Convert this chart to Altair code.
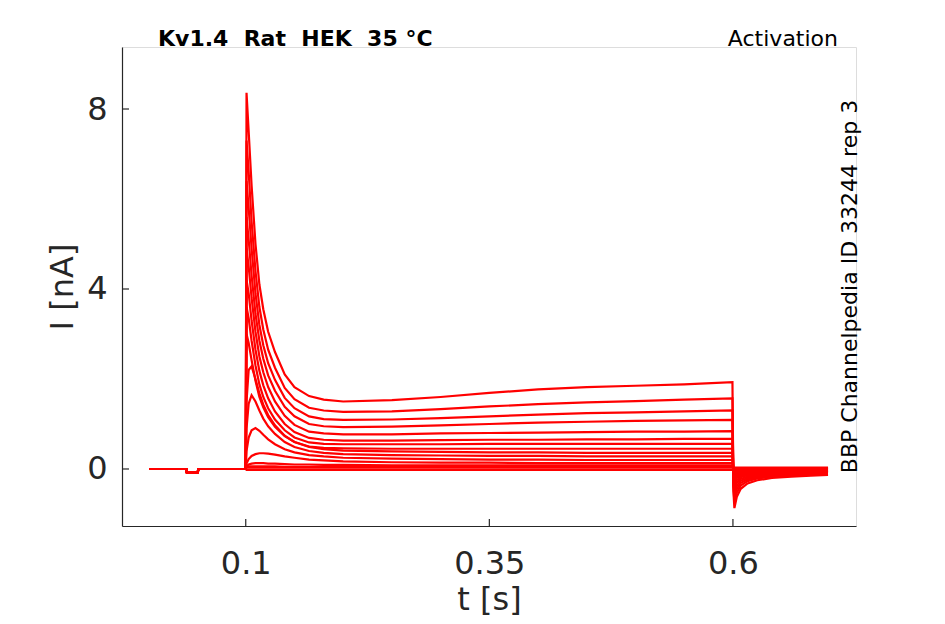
import altair as alt
import pandas as pd

# time grids (s)
t_pre = [0.001, 0.039, 0.0395, 0.0508, 0.0513, 0.0995]
t_step = [0.1, 0.1008, 0.103, 0.106, 0.11, 0.114, 0.118, 0.123, 0.13, 0.14, 0.15,
          0.165, 0.18, 0.2, 0.25, 0.3, 0.35, 0.4, 0.45, 0.5, 0.55, 0.5995]
t_tail = [0.6005, 0.6015, 0.604, 0.608, 0.615, 0.625, 0.64, 0.66, 0.68, 0.6976]

# holding current before the step (nA), shared by all sweeps
i_pre = [0.0, 0.0, -0.07, -0.07, 0.0, 0.0]

# current during the activation step (nA)
step_01 = [0.0, 8.36, 7.5, 6.3, 5.0, 4.1, 3.55, 3.05, 2.6, 2.1, 1.82, 1.62, 1.54, 1.50, 1.53, 1.60, 1.69, 1.77, 1.82, 1.85, 1.88, 1.93]
step_02 = [0.0, 7.3, 6.6, 5.5, 4.4, 3.6, 3.1, 2.65, 2.25, 1.8, 1.55, 1.36, 1.30, 1.27, 1.28, 1.33, 1.39, 1.44, 1.48, 1.51, 1.54, 1.57]
step_03 = [0.0, 6.4, 5.8, 4.9, 3.9, 3.2, 2.75, 2.35, 1.98, 1.58, 1.35, 1.17, 1.11, 1.09, 1.10, 1.13, 1.17, 1.21, 1.24, 1.26, 1.28, 1.30]
step_04 = [0.0, 5.6, 5.1, 4.3, 3.45, 2.85, 2.45, 2.08, 1.74, 1.38, 1.17, 1.00, 0.95, 0.93, 0.94, 0.97, 1.00, 1.03, 1.05, 1.07, 1.08, 1.09]
step_05 = [0.0, 4.9, 4.5, 3.8, 3.05, 2.5, 2.15, 1.82, 1.5, 1.18, 0.98, 0.83, 0.79, 0.77, 0.77, 0.79, 0.80, 0.81, 0.82, 0.83, 0.83, 0.84]
step_06 = [0.0, 4.2, 3.9, 3.3, 2.65, 2.18, 1.86, 1.57, 1.28, 1.0, 0.82, 0.69, 0.65, 0.63, 0.63, 0.64, 0.65, 0.65, 0.66, 0.66, 0.67, 0.67]
step_07 = [0.0, 3.6, 3.35, 2.85, 2.3, 1.88, 1.6, 1.35, 1.1, 0.86, 0.70, 0.59, 0.56, 0.55, 0.55, 0.55, 0.56, 0.56, 0.56, 0.56, 0.56, 0.56]
step_08 = [0.0, 3.0, 2.8, 2.42, 1.96, 1.6, 1.37, 1.15, 0.94, 0.73, 0.60, 0.50, 0.47, 0.46, 0.45, 0.45, 0.45, 0.45, 0.45, 0.45, 0.45, 0.45]
step_09 = [0.0, 1.5, 2.2, 2.28, 2.0, 1.68, 1.43, 1.2, 0.97, 0.74, 0.60, 0.49, 0.44, 0.41, 0.39, 0.38, 0.37, 0.37, 0.36, 0.36, 0.36, 0.36]
step_10 = [0.0, 0.9, 1.45, 1.64, 1.5, 1.3, 1.12, 0.95, 0.78, 0.60, 0.49, 0.40, 0.36, 0.33, 0.31, 0.30, 0.29, 0.29, 0.28, 0.28, 0.28, 0.28]
step_11 = [0.0, 0.4, 0.7, 0.86, 0.91, 0.85, 0.76, 0.66, 0.55, 0.44, 0.37, 0.31, 0.28, 0.25, 0.23, 0.22, 0.21, 0.21, 0.20, 0.20, 0.20, 0.20]
step_12 = [0.0, 0.12, 0.22, 0.29, 0.33, 0.35, 0.35, 0.34, 0.32, 0.28, 0.25, 0.21, 0.19, 0.17, 0.15, 0.14, 0.14, 0.13, 0.13, 0.13, 0.13, 0.13]
step_13 = [0.0, 0.06, 0.10, 0.12, 0.13, 0.13, 0.13, 0.12, 0.12, 0.11, 0.10, 0.10, 0.09, 0.09, 0.08, 0.08, 0.08, 0.08, 0.08, 0.08, 0.08, 0.08]
step_14 = [0.0, 0.04, 0.06, 0.06, 0.06, 0.06, 0.06, 0.06, 0.06, 0.05, 0.05, 0.05, 0.05, 0.05, 0.05, 0.05, 0.05, 0.05, 0.05, 0.05, 0.05, 0.05]
step_15 = [0.0, 0.03, 0.03, 0.03, 0.03, 0.03, 0.03, 0.03, 0.03, 0.03, 0.03, 0.03, 0.03, 0.03, 0.03, 0.03, 0.03, 0.03, 0.03, 0.03, 0.03, 0.03]
step_16 = [0.0, -0.02, -0.02, -0.02, -0.02, -0.02, -0.02, -0.02, -0.02, -0.02, -0.02, -0.02, -0.02, -0.02, -0.02, -0.02, -0.02, -0.02, -0.02, -0.02, -0.02, -0.02]

# tail current after the step (nA)
tail_01 = [-0.5, -0.87, -0.62, -0.44, -0.32, -0.25, -0.20, -0.17, -0.15, -0.13]
tail_02 = [-0.4, -0.72, -0.52, -0.37, -0.27, -0.21, -0.17, -0.15, -0.13, -0.12]
tail_03 = [-0.35, -0.60, -0.44, -0.31, -0.23, -0.18, -0.15, -0.13, -0.12, -0.11]
tail_04 = [-0.3, -0.50, -0.37, -0.26, -0.20, -0.16, -0.13, -0.12, -0.11, -0.10]
tail_05 = [-0.25, -0.42, -0.30, -0.22, -0.17, -0.14, -0.12, -0.11, -0.10, -0.09]
tail_06 = [-0.2, -0.34, -0.25, -0.18, -0.14, -0.12, -0.10, -0.09, -0.08, -0.08]
tail_07 = [-0.17, -0.28, -0.20, -0.15, -0.12, -0.10, -0.09, -0.08, -0.07, -0.07]
tail_08 = [-0.14, -0.22, -0.16, -0.12, -0.10, -0.08, -0.07, -0.06, -0.06, -0.06]
tail_09 = [-0.10, -0.17, -0.13, -0.10, -0.08, -0.07, -0.06, -0.05, -0.05, -0.05]
tail_10 = [-0.08, -0.13, -0.10, -0.08, -0.06, -0.05, -0.05, -0.04, -0.04, -0.04]
tail_11 = [-0.06, -0.10, -0.07, -0.06, -0.05, -0.04, -0.03, -0.03, -0.03, -0.03]
tail_12 = [-0.04, -0.06, -0.05, -0.04, -0.03, -0.02, -0.02, -0.02, -0.02, -0.02]
tail_13 = [-0.02, -0.03, -0.02, -0.02, -0.01, -0.01, -0.01, -0.01, 0.0, 0.0]
tail_14 = [0.0, -0.01, 0.0, 0.0, 0.01, 0.01, 0.01, 0.01, 0.01, 0.01]
tail_15 = [0.02, 0.02, 0.02, 0.02, 0.02, 0.02, 0.02, 0.02, 0.02, 0.02]
tail_16 = [0.03, 0.03, 0.03, 0.03, 0.03, 0.03, 0.03, 0.03, 0.03, 0.03]

steps = [step_01, step_02, step_03, step_04, step_05, step_06, step_07, step_08,
         step_09, step_10, step_11, step_12, step_13, step_14, step_15, step_16]
tails = [tail_01, tail_02, tail_03, tail_04, tail_05, tail_06, tail_07, tail_08,
         tail_09, tail_10, tail_11, tail_12, tail_13, tail_14, tail_15, tail_16]

x_ticks = [0.1, 0.35, 0.6]
y_ticks = [0, 4, 8]
title_left = "Kv1.4\u00a0 Rat\u00a0 HEK\u00a0 35 °C"
title_right = "Activation"
side_note = "BBP Channelpedia ID 33244 rep 3"

rows = []
times = t_pre + t_step + t_tail
for k, (s, tl) in enumerate(zip(steps, tails)):
    vals = i_pre + s + tl
    for t, v in zip(times, vals):
        rows.append({"sweep": k, "t": t, "I": v})
df = pd.DataFrame(rows)

W, H = 734, 479
FONT = "DejaVu Sans"
AX = "#262626"
xs = alt.Scale(domain=[-0.027, 0.7263], nice=False, zero=False)
ys = alt.Scale(domain=[-1.267, 9.378], nice=False, zero=False)

lines = alt.Chart(df).mark_line(color="#ff0000", strokeWidth=2.2, clip=True).encode(
    x=alt.X("t:Q", scale=xs, title="t [s]",
            axis=alt.Axis(values=x_ticks, format="~g", ticks=False, grid=False,
                          domainColor=AX, domainWidth=1.2,
                          labelFont=FONT, labelFontSize=32, labelColor=AX,
                          labelBaseline="alphabetic", labelPadding=47,
                          titleFont=FONT, titleFontSize=32, titleFontWeight="normal",
                          titleColor=AX, titleBaseline="alphabetic", titleY=83)),
    y=alt.Y("I:Q", scale=ys, title="I [nA]",
            axis=alt.Axis(values=y_ticks, format="d", ticks=False, grid=False,
                          domainColor=AX, domainWidth=1.2,
                          labelFont=FONT, labelFontSize=32, labelColor=AX,
                          labelPadding=15,
                          titleFont=FONT, titleFontSize=32, titleFontWeight="normal",
                          titleColor=AX, titleBaseline="alphabetic", titleX=-50,
                          titleY=H / 2, titleAngle=270)),
    detail="sweep:N",
)

xt = alt.Chart(pd.DataFrame({"t": x_ticks})).mark_rule(color=AX, strokeWidth=1.2).encode(
    x=alt.X("t:Q", scale=xs), y=alt.value(H), y2=alt.value(H - 7))
yt = alt.Chart(pd.DataFrame({"I": y_ticks})).mark_rule(color=AX, strokeWidth=1.2).encode(
    y=alt.Y("I:Q", scale=ys), x=alt.value(0), x2=alt.value(7))

t1 = alt.Chart(pd.DataFrame({"s": [title_left]})).mark_text(
    font=FONT, fontSize=22, fontWeight="bold", color="black", align="left",
    baseline="alphabetic").encode(text="s:N", x=alt.value(36), y=alt.value(-1))
t2 = alt.Chart(pd.DataFrame({"s": [title_right]})).mark_text(
    font=FONT, fontSize=22, color="black", align="right",
    baseline="alphabetic").encode(text="s:N", x=alt.value(716), y=alt.value(-1))
t3 = alt.Chart(pd.DataFrame({"s": [side_note]})).mark_text(
    font=FONT, fontSize=22, color="black", align="center", angle=270,
    baseline="alphabetic").encode(text="s:N", x=alt.value(735), y=alt.value(H / 2))

chart = alt.layer(lines, xt, yt, t1, t2, t3).properties(
    width=W, height=H, autosize="none",
    padding={"left": 114, "top": 39, "right": 60, "bottom": 90},
).configure_view(stroke=None).configure(background="white")

chart.save("out.html", embed_options={"renderer": "svg", "actions": False})
